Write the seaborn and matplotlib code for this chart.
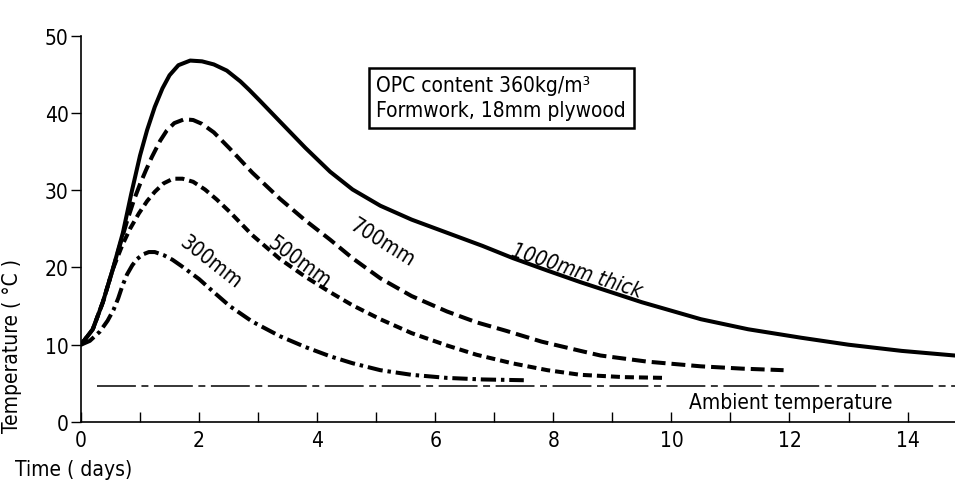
import matplotlib
matplotlib.use('Agg')
import matplotlib.pyplot as plt
import seaborn as sns

# values (days, deg C)
t_1000 = [0, 0.2, 0.37, 0.54, 0.71, 0.85, 1.0, 1.12, 1.25, 1.38, 1.5, 1.65, 1.85, 2.05,
          2.25, 2.47, 2.7, 2.85, 3.03, 3.37, 3.8, 4.22, 4.6, 5.07, 5.6, 6.2, 6.8, 7.32,
          7.9, 8.46, 9.5, 10.5, 11.3, 12.2, 13.0, 13.9, 14.8]
T_1000 = [10, 12, 15.5, 19.8, 24.5, 29.5, 34.5, 37.8, 40.8, 43.2, 44.9, 46.2, 46.8, 46.7,
          46.3, 45.5, 44.1, 43.0, 41.6, 38.9, 35.5, 32.4, 30.1, 28, 26.2, 24.5, 22.8, 21.2,
          19.6, 18.1, 15.5, 13.3, 12, 10.9, 10, 9.2, 8.6]

t_700 = [0, 0.2, 0.37, 0.54, 0.78, 0.9, 1.0, 1.1, 1.2, 1.34, 1.45, 1.58, 1.75, 1.9, 2.05,
         2.25, 2.52, 2.9, 3.37, 3.8, 4.22, 4.6, 5.07, 5.6, 6.2, 6.7, 7.2, 7.8, 8.46, 8.8,
         9.6, 10.5, 11.2, 11.9]
T_700 = [10, 12, 15.5, 19.8, 26, 28.8, 30.8, 32.6, 34.3, 36.4, 37.7, 38.7, 39.2, 39.1, 38.6,
         37.5, 35.4, 32.3, 28.9, 26.1, 23.6, 21.2, 18.6, 16.3, 14.3, 12.9, 11.8, 10.4, 9.2,
         8.6, 7.8, 7.2, 6.9, 6.7]

t_500 = [0, 0.2, 0.37, 0.54, 0.7, 0.83, 0.98, 1.12, 1.25, 1.4, 1.56, 1.72, 1.9, 2.1, 2.3,
         2.52, 2.9, 3.37, 3.8, 4.22, 4.6, 5.07, 5.6, 6.2, 6.7, 7.3, 7.9, 8.46, 9.2, 9.9]
T_500 = [10, 12, 15.5, 19.8, 22.9, 25, 27, 28.6, 29.8, 30.9, 31.5, 31.5, 31.1, 30.1, 28.8,
         27.2, 24.2, 21.1, 18.8, 16.8, 15.1, 13.3, 11.5, 9.9, 8.7, 7.6, 6.7, 6.1, 5.8, 5.7]

t_300 = [0, 0.15, 0.32, 0.45, 0.55, 0.63, 0.7, 0.78, 0.87, 0.95, 1.05, 1.15, 1.25, 1.4,
         1.55, 1.7, 2.0, 2.25, 2.52, 2.9, 3.37, 3.8, 4.22, 4.6, 5.07, 5.6, 6.2, 6.8, 7.5]
T_300 = [10, 10.5, 11.7, 13.1, 14.5, 16.0, 17.6, 19.1, 20.3, 21.1, 21.7, 22.0, 22.0, 21.6,
         21.0, 20.2, 18.5, 16.8, 15.0, 13.0, 11.1, 9.7, 8.5, 7.6, 6.7, 6.1, 5.7, 5.5, 5.4]

t_ambient = [0.27, 15]
T_ambient = [4.7, 4.7]

x_ticks = [0, 2, 4, 6, 8, 10, 12, 14]
y_ticks = [0, 10, 20, 30, 40, 50]

sns.set_style("ticks")
plt.rcParams['font.family'] = ['DejaVu Sans']
plt.rcParams['font.stretch'] = 'condensed'
plt.rcParams['lines.scale_dashes'] = False
plt.rcParams['text.color'] = 'black'
plt.rcParams['axes.labelcolor'] = 'black'
plt.rcParams['xtick.color'] = 'black'
plt.rcParams['ytick.color'] = 'black'
plt.rcParams['axes.edgecolor'] = 'black'

fig = plt.figure(figsize=(9.55, 4.85), dpi=100)
ax = fig.add_axes([0.0848, 0.128, 0.915, 0.796])

lw = 2.9
sns.lineplot(x=t_1000, y=T_1000, ax=ax, color='black', linewidth=lw, sort=False)
sns.lineplot(x=t_700, y=T_700, ax=ax, color='black', linewidth=lw, sort=False,
             linestyle=(0, (10, 4.3)))
sns.lineplot(x=t_500, y=T_500, ax=ax, color='black', linewidth=lw, sort=False,
             linestyle=(0, (6.5, 3.6)))
sns.lineplot(x=t_300, y=T_300, ax=ax, color='black', linewidth=lw, sort=False,
             linestyle=(0, (11, 3.5, 2.5, 3.5)))
sns.lineplot(x=t_ambient, y=T_ambient, ax=ax, color='black', linewidth=1.1, sort=False,
             linestyle=(0, (28, 4, 5, 4)))

ax.set_xlim(0, 14.8)
ax.set_ylim(0, 50)
ax.set_xticks(x_ticks)
ax.set_xticks(range(1, 15, 2), minor=True)
ax.set_yticks(y_ticks)
ax.tick_params(axis='x', direction='in', length=7, width=1, labelsize=15, pad=6)
ax.tick_params(axis='x', which='minor', direction='in', length=7, width=1)
ax.tick_params(axis='y', direction='out', length=7, width=1, labelsize=15, pad=2)
sns.despine(ax=ax)
ax.spines['left'].set_linewidth(1.2)
ax.spines['bottom'].set_linewidth(1.2)

ax.set_ylabel('Temperature ( °C )', fontsize=15)
ax.yaxis.set_label_coords(-0.068, 0.2)
fig.text(0.016, 0.01, 'Time ( days)', fontsize=15, ha='left', va='bottom')

ax.text(7.12, 42.0, 'OPC content 360kg/m³\nFormwork, 18mm plywood', fontsize=15,
        ha='center', va='center', multialignment='left', linespacing=1.35,
        bbox=dict(boxstyle='square,pad=0.35', facecolor='white', edgecolor='black',
                  linewidth=1.8))

ax.text(2.2, 20.8, '300mm', fontsize=15, rotation=-38, ha='center', va='center')
ax.text(3.7, 20.8, '500mm', fontsize=15, rotation=-36, ha='center', va='center')
ax.text(5.1, 23.3, '700mm', fontsize=15, rotation=-32, ha='center', va='center')
ax.text(8.4, 19.6, '1000mm thick', fontsize=15, rotation=-18, ha='center', va='center',
        style='italic')
ax.text(10.3, 2.6, 'Ambient temperature', fontsize=15, ha='left', va='center')

fig.savefig('out.png', dpi=100)
